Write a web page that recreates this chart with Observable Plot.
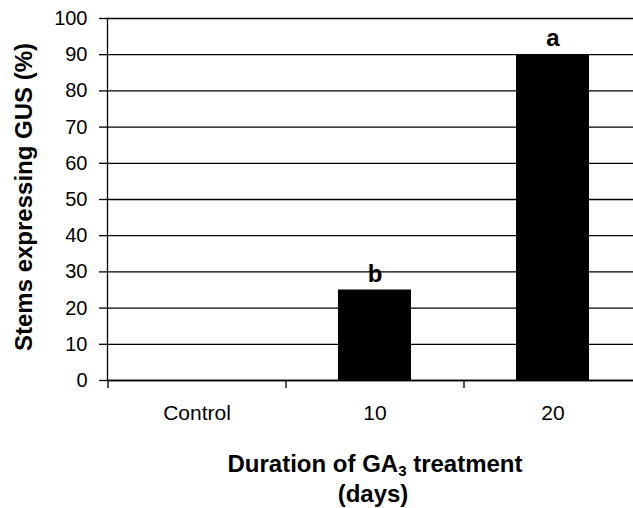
<!DOCTYPE html>
<html><head><meta charset="utf-8">
<script src="https://cdn.jsdelivr.net/npm/d3@7"></script>
<script src="https://cdn.jsdelivr.net/npm/@observablehq/plot@0.6"></script>
<style>body{margin:0;background:#fff;font-family:"Liberation Sans",Arial,sans-serif;}</style>
</head><body><div id="chart"></div>
<script>
const categories = ["Control", "10", "20"];
const values = [0, 25, 90];
const letters = ["", "b", "a"];
const yTicks = [0,10,20,30,40,50,60,70,80,90,100];
const yTitle = "Stems expressing GUS (%)";
const xTitleMain = "Duration of GA";
const xTitleSub = "3";
const xTitleRest = " treatment";
const xTitleLine2 = "(days)";

const data = categories.map((c,i)=>({cat:c, v:values[i], l:letters[i]}));

const svg = Plot.plot({
  width: 633, height: 508,
  marginLeft: 107, marginTop: 18, marginBottom: 128, marginRight: -8,
  style: {fontFamily: '"Liberation Sans", Arial, sans-serif', fontSize: "20px", color: "#000", background: "#fff"},
  x: {domain: categories, paddingInner: 0.59, paddingOuter: 0.295, align: 0.5},
  y: {domain: [0, 100]},
  marks: [
    Plot.gridY(yTicks, {stroke: "#000", strokeOpacity: 1, strokeWidth: 1.3}),
    Plot.barY(data, {x: "cat", y: "v", fill: "#000"}),
    Plot.text(data, {x: "cat", y: "v", text: "l", dy: -16, fontSize: 24, fontWeight: "bold", fill: "#000"}),
    Plot.frame({anchor: "left", stroke: "#000", strokeWidth: 1.3}),
    Plot.ruleY([0], {stroke: "#000", strokeWidth: 1.3}),
    Plot.axisY({ticks: yTicks, tickSize: 8, tickPadding: 12, label: null, fontSize: 20, strokeWidth: 1.3}),
    Plot.axisX({tickSize: 8, text: null, dx: -89, label: null, strokeWidth: 1.3}),
    Plot.axisX({tickSize: 0, tickPadding: 25, label: null, fontSize: 21})
  ]
});
document.getElementById("chart").appendChild(svg);

const s = d3.select(svg);
const t1 = s.append("text").attr("x", 375).attr("y", 472)
  .attr("text-anchor", "middle").attr("font-weight", "bold").attr("font-size", 24).attr("fill", "#000");
t1.append("tspan").text(xTitleMain);
t1.append("tspan").attr("font-size", 15).attr("dy", 4).text(xTitleSub);
t1.append("tspan").attr("dy", -4).text(xTitleRest);
s.append("text").attr("x", 373).attr("y", 502)
  .attr("text-anchor", "middle").attr("font-weight", "bold").attr("font-size", 24).attr("fill", "#000")
  .text(xTitleLine2);
s.append("text").attr("transform", "translate(32,197) rotate(-90)")
  .attr("text-anchor", "middle").attr("font-weight", "bold").attr("font-size", 24).attr("fill", "#000")
  .text(yTitle);
</script></body></html>
